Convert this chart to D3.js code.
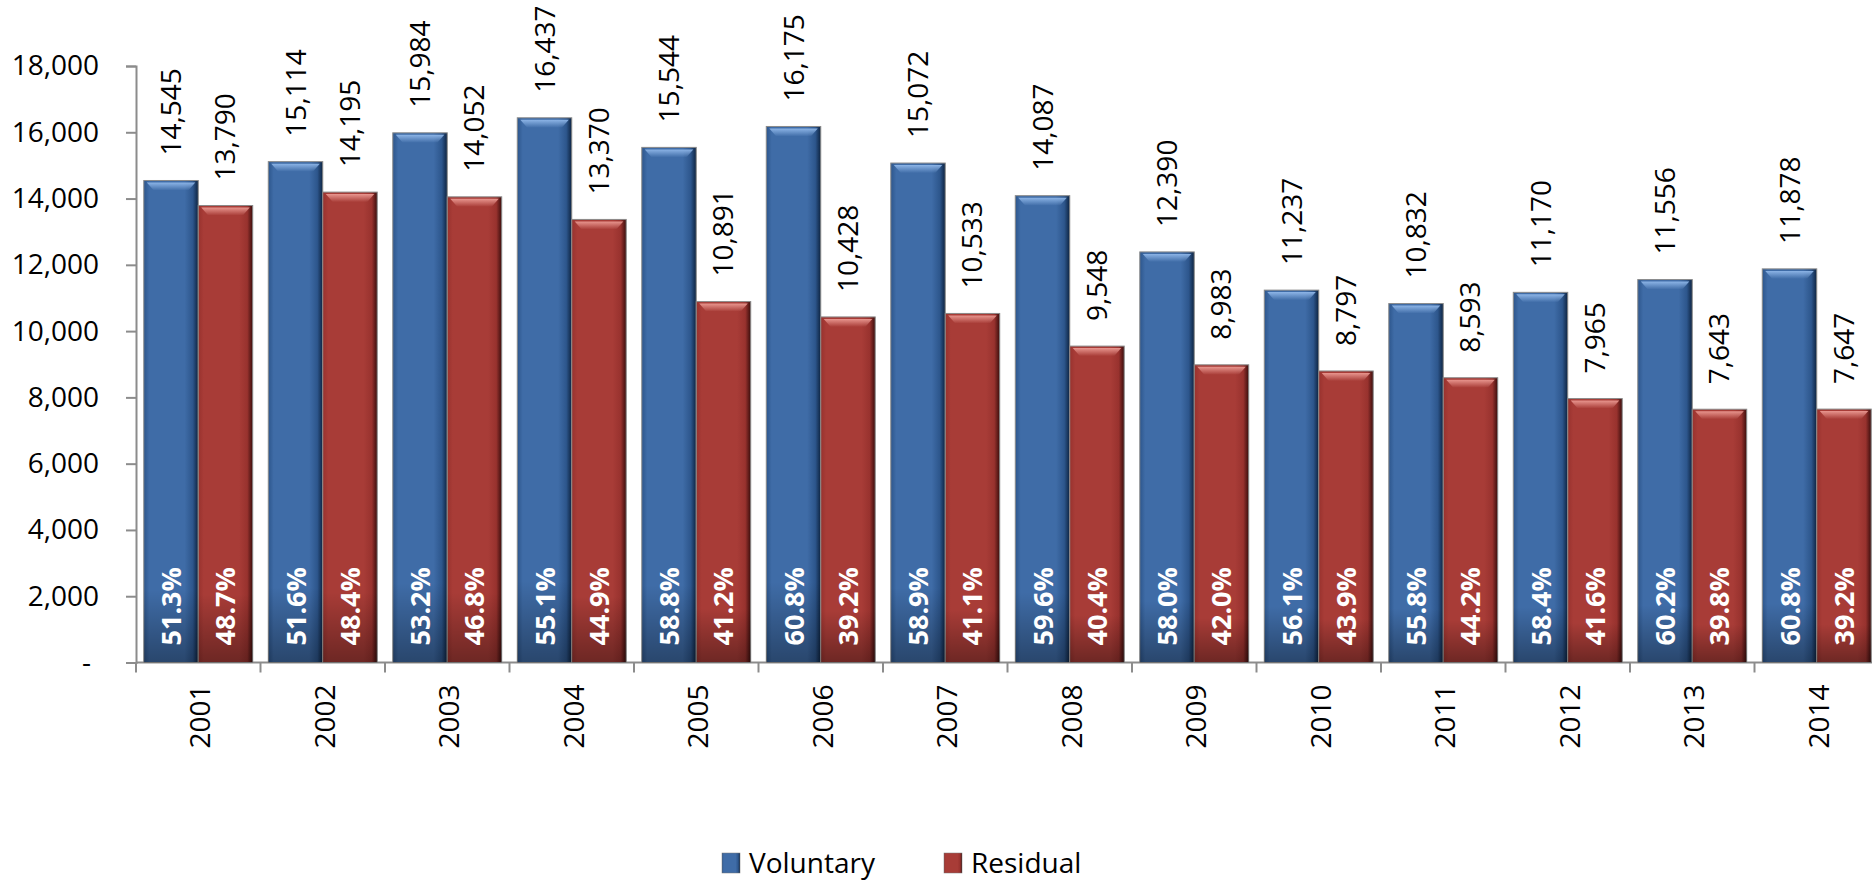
<!DOCTYPE html>
<html>
<head>
<meta charset="utf-8">
<script src="https://cdn.jsdelivr.net/npm/d3@7"></script>
<style>
  body { margin: 0; background: #fff; }
  text { font-family: "Open Sans", sans-serif; }
</style>
</head>
<body>
<svg id="chart"></svg>
<script>
const years = ["2001","2002","2003","2004","2005","2006","2007","2008","2009","2010","2011","2012","2013","2014"];
const voluntary = [14545,15114,15984,16437,15544,16175,15072,14087,12390,11237,10832,11170,11556,11878];
const residual = [13790,14195,14052,13370,10891,10428,10533,9548,8983,8797,8593,7965,7643,7647];
const voluntaryPct = ["51.3%","51.6%","53.2%","55.1%","58.8%","60.8%","58.9%","59.6%","58.0%","56.1%","55.8%","58.4%","60.2%","60.8%"];
const residualPct = ["48.7%","48.4%","46.8%","44.9%","41.2%","39.2%","41.1%","40.4%","42.0%","43.9%","44.2%","41.6%","39.8%","39.2%"];
const seriesNames = ["Voluntary", "Residual"];
const yTicks = [0,2000,4000,6000,8000,10000,12000,14000,16000,18000];

const width = 1872, height = 880;
const marginLeft = 136, marginTop = 66, plotBottom = 662.5;
const bandW = 124.5;

const svg = d3.select("#chart").attr("width", width).attr("height", height);

const x = d3.scaleBand().domain(years)
  .range([marginLeft, marginLeft + bandW * years.length])
  .paddingInner(0.125).paddingOuter(0.0625);
const xs = d3.scaleBand().domain(seriesNames).range([0, x.bandwidth()]);
const y = d3.scaleLinear().domain([0, 18000]).range([plotBottom, marginTop]);

// gradients for the bevelled bars
const defs = svg.append("defs");
const palettes = {
  Voluntary: { left: "#2d568c", mid: "#3f6ca7", right: "#0d2340", hi: "#8cb4e6" },
  Residual: { left: "#98322e", mid: "#a83c37", right: "#3a0d0c", hi: "#e8958e" }
};
Object.entries(palettes).forEach(([k, p]) => {
  const g = defs.append("linearGradient").attr("id", "g" + k)
    .attr("x1", 0).attr("x2", 1).attr("y1", 0).attr("y2", 0);
  g.append("stop").attr("offset", 0).attr("stop-color", p.left);
  g.append("stop").attr("offset", 0.1).attr("stop-color", p.mid);
  g.append("stop").attr("offset", 0.75).attr("stop-color", p.mid);
  g.append("stop").attr("offset", 0.9).attr("stop-color", p.left);
  g.append("stop").attr("offset", 1).attr("stop-color", p.right);
  const v = defs.append("linearGradient").attr("id", "v" + k)
    .attr("x1", 0).attr("x2", 0).attr("y1", 0).attr("y2", 1);
  v.append("stop").attr("offset", 0).attr("stop-color", "#000").attr("stop-opacity", 0);
  v.append("stop").attr("offset", 0.85).attr("stop-color", "#000").attr("stop-opacity", 0);
  v.append("stop").attr("offset", 1).attr("stop-color", "#000").attr("stop-opacity", 0.35);
  const h = defs.append("linearGradient").attr("id", "h" + k)
    .attr("x1", 0).attr("x2", 0).attr("y1", 0).attr("y2", 1);
  h.append("stop").attr("offset", 0).attr("stop-color", p.hi).attr("stop-opacity", 1);
  h.append("stop").attr("offset", 1).attr("stop-color", p.hi).attr("stop-opacity", 0);
});

// axes
const yAxis = svg.append("g")
  .attr("transform", `translate(${marginLeft},0)`)
  .call(d3.axisLeft(y).tickValues(yTicks).tickSize(10).tickPadding(27)
    .tickFormat(d => d === 0 ? "-" : d3.format(",")(d)));
yAxis.select(".domain").attr("stroke", "#8c8c8c").attr("stroke-width", 2);
yAxis.selectAll(".tick line").attr("stroke", "#8c8c8c").attr("stroke-width", 2);
yAxis.selectAll("text").attr("font-size", 28).attr("fill", "#000")
  .attr("font-family", "Open Sans, sans-serif");
yAxis.selectAll(".tick").filter(d => d === 0).select("text").attr("dx", -8);

const xg = svg.append("g").attr("transform", `translate(0,${plotBottom})`);
xg.append("line").attr("x1", marginLeft).attr("x2", marginLeft + bandW * years.length)
  .attr("stroke", "#8c8c8c").attr("stroke-width", 2);
xg.selectAll(".sep").data(years).join("line")
  .attr("x1", d => x(d) - x.step() * 0.0625)
  .attr("x2", d => x(d) - x.step() * 0.0625)
  .attr("y1", 0).attr("y2", 10)
  .attr("stroke", "#8c8c8c").attr("stroke-width", 2);
xg.selectAll(".yl").data(years).join("text")
  .attr("transform", d => `translate(${x(d) + x.bandwidth() / 2 + 12},22) rotate(-90)`)
  .attr("text-anchor", "end")
  .attr("font-size", 28).attr("fill", "#000")
  .text(d => d);

// bars
const rows = years.map((yr, i) => [
  { yr, s: "Voluntary", v: voluntary[i], pct: voluntaryPct[i] },
  { yr, s: "Residual", v: residual[i], pct: residualPct[i] }
]).flat();

const bars = svg.append("g").selectAll("g").data(rows).join("g")
  .attr("transform", d => `translate(${x(d.yr) + xs(d.s)},0)`);
bars.append("rect")
  .attr("x", 0).attr("y", d => y(d.v))
  .attr("width", xs.bandwidth()).attr("height", d => plotBottom - y(d.v))
  .attr("fill", d => `url(#g${d.s})`)
  .attr("stroke", "#8a8a8a").attr("stroke-width", 1);
bars.append("rect")
  .attr("x", 0).attr("y", d => y(d.v))
  .attr("width", xs.bandwidth()).attr("height", d => plotBottom - y(d.v))
  .attr("fill", d => `url(#v${d.s})`);
bars.append("path")
  .attr("d", d => {
    const t = y(d.v), w = xs.bandwidth();
    return `M3,${t + 2} L${w - 3},${t + 2} L${w - 10},${t + 10} L10,${t + 10} Z`;
  })
  .attr("fill", d => `url(#h${d.s})`);

// value labels above bars
bars.append("text")
  .attr("transform", d => `translate(${xs.bandwidth() / 2 + 10},${y(d.v) - 25}) rotate(-90)`)
  .attr("font-size", 28).attr("fill", "#000")
  .text(d => d3.format(",")(d.v));

// share labels inside bars
bars.append("text")
  .attr("transform", d => `translate(${xs.bandwidth() / 2 + 10},${plotBottom - 17}) rotate(-90)`)
  .attr("font-size", 27).attr("font-weight", "bold").attr("fill", "#fff")
  .text(d => d.pct);

// legend
const legend = svg.append("g").attr("transform", "translate(722,853)");
const lg = legend.selectAll("g").data(seriesNames).join("g")
  .attr("transform", (d, i) => `translate(${i * 222},0)`);
lg.append("rect").attr("width", 18).attr("height", 20)
  .attr("fill", d => `url(#g${d})`).attr("stroke", "#777").attr("stroke-width", 0.5);
lg.append("text").attr("x", 27).attr("y", 20)
  .attr("font-size", 28).attr("fill", "#000").text(d => d);
</script>
</body>
</html>
